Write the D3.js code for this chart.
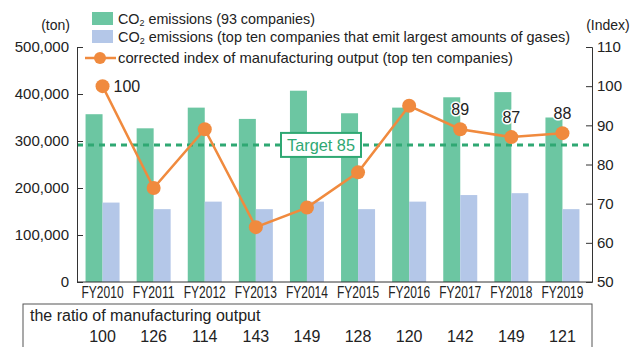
<!DOCTYPE html>
<html><head><meta charset="utf-8">
<script src="https://cdn.jsdelivr.net/npm/d3@7"></script>
<style>
body{margin:0;background:#fff;}
svg{display:block;font-family:"Liberation Sans",Arial,sans-serif;}
</style></head>
<body><svg id="c" width="639" height="347"></svg>
<script>
const years = ["FY2010","FY2011","FY2012","FY2013","FY2014","FY2015","FY2016","FY2017","FY2018","FY2019"];
const emissionsAll = [357000,327000,371000,347000,407000,359000,371000,393000,404000,350000];
const emissionsTop10 = [169000,155000,171000,155000,171000,155000,171000,185000,189000,155000];
const outputIndex = [100,74,89,64,69,78,95,89,87,88];
const ratioOutput = [100,126,114,143,149,128,120,142,149,121];
const leftTicks = [0,100000,200000,300000,400000,500000];
const rightTicks = [50,60,70,80,90,100,110];
const labelledPoints = [0,7,8,9];
const target = 85;
const legendLabels = ["emissions (93 companies)","emissions (top ten companies that emit largest amounts of gases)","corrected index of manufacturing output (top ten companies)"];

const GREEN="#6cc6a2", BLUE="#b4c7e8", ORANGE="#f08a3e", DGREEN="#2fa873";
const svg=d3.select("#c");
const x=d3.scaleBand().domain(years).range([77,588]);
const yL=d3.scaleLinear().domain([0,500000]).range([282,47]);
const yR=d3.scaleLinear().domain([50,110]).range([282,47]);
const cx=d=>x(d)+x.bandwidth()/2;
const bw=17;

// bars
svg.append("g").selectAll("rect").data(years).join("rect")
  .attr("x",d=>cx(d)-bw).attr("width",bw)
  .attr("y",(d,i)=>yL(emissionsAll[i])).attr("height",(d,i)=>yL(0)-yL(emissionsAll[i]))
  .attr("fill",GREEN);
svg.append("g").selectAll("rect").data(years).join("rect")
  .attr("x",d=>cx(d)).attr("width",bw)
  .attr("y",(d,i)=>yL(emissionsTop10[i])).attr("height",(d,i)=>yL(0)-yL(emissionsTop10[i]))
  .attr("fill",BLUE);

// target line
svg.append("line").attr("x1",77).attr("x2",592).attr("y1",yR(target)).attr("y2",yR(target))
  .attr("stroke",DGREEN).attr("stroke-width",3).attr("stroke-dasharray","6,5");
const tg=svg.append("g");
tg.append("rect").attr("x",281).attr("y",yR(target)-12).attr("width",80).attr("height",24)
  .attr("fill","#fff").attr("stroke",DGREEN).attr("stroke-width",2);
tg.append("text").attr("x",321).attr("y",yR(target)+6).attr("text-anchor","middle")
  .attr("font-size",17).attr("fill",DGREEN).attr("textLength",68).attr("lengthAdjust","spacingAndGlyphs").text("Target "+target);

// axes
const axL=d3.axisLeft(yL).tickValues(leftTicks).tickFormat(d3.format(",")).tickSize(-6).tickPadding(8);
const gL=svg.append("g").attr("transform","translate(77,0)").call(axL);
const axR=d3.axisRight(yR).tickValues(rightTicks).tickSize(-6).tickPadding(5);
const gR=svg.append("g").attr("transform","translate(592,0)").call(axR);
const axB=d3.axisBottom(x).tickSize(0).tickPadding(5);
const gB=svg.append("g").attr("transform","translate(0,282)").call(axB);
gB.select(".domain").attr("d","M77,0H592");
[gL,gR,gB].forEach(g=>{
  g.select(".domain").attr("stroke","#333");
  g.selectAll(".tick line").attr("stroke","#333");
  g.selectAll("text").attr("fill","#222").attr("font-family",null);
});
gL.selectAll("text").attr("font-size",15);
gR.selectAll("text").attr("font-size",15);
gB.selectAll("text").attr("font-size",16).attr("textLength",42).attr("lengthAdjust","spacingAndGlyphs");
svg.append("text").attr("x",70).attr("y",30).attr("text-anchor","end").attr("font-size",14).attr("fill","#222").text("(ton)");
svg.append("text").attr("x",608).attr("y",30).attr("text-anchor","middle").attr("font-size",14).attr("fill","#222").text("(Index)");

// line
const line=d3.line().x((d,i)=>cx(years[i])).y(d=>yR(d));
svg.append("path").datum(outputIndex).attr("d",line).attr("fill","none").attr("stroke",ORANGE).attr("stroke-width",2.5);
svg.append("g").selectAll("circle").data(outputIndex).join("circle")
  .attr("cx",(d,i)=>cx(years[i])).attr("cy",d=>yR(d)).attr("r",7).attr("fill",ORANGE);
svg.append("g").selectAll("text").data(labelledPoints).join("text")
  .attr("x",i=>i===0?cx(years[i])+11:cx(years[i]))
  .attr("y",i=>i===0?yR(outputIndex[i])+6:yR(outputIndex[i])-14)
  .attr("text-anchor",i=>i===0?"start":"middle")
  .attr("font-size",16).attr("fill","#222")
  .attr("stroke","#fff").attr("stroke-width",3).attr("paint-order","stroke")
  .text(i=>outputIndex[i]);

// legend
const lg=svg.append("g");
lg.append("rect").attr("x",92).attr("y",12).attr("width",21).attr("height",13).attr("fill",GREEN);
lg.append("rect").attr("x",92).attr("y",30).attr("width",21).attr("height",13).attr("fill",BLUE);
lg.append("line").attr("x1",85).attr("x2",116).attr("y1",58).attr("y2",58).attr("stroke",ORANGE).attr("stroke-width",2.5);
lg.append("circle").attr("cx",100).attr("cy",58).attr("r",6).attr("fill",ORANGE);
const legLen=[197,452,395];
[0,1].forEach(k=>{
  const t=lg.append("text").attr("x",118).attr("y",[24,42][k]).attr("font-size",14.5).attr("fill","#222")
    .attr("textLength",legLen[k]).attr("lengthAdjust","spacingAndGlyphs");
  t.append("tspan").text("CO");
  t.append("tspan").attr("font-size",9).attr("dy",2).text("2");
  t.append("tspan").attr("dy",-2).text(" "+legendLabels[k]);
});
lg.append("text").attr("x",118).attr("y",63).attr("font-size",14.5).attr("fill","#222")
  .attr("textLength",legLen[2]).attr("lengthAdjust","spacingAndGlyphs").text(legendLabels[2]);

// table
svg.append("rect").attr("x",23).attr("y",304).attr("width",569).attr("height",44).attr("fill","none").attr("stroke","#555").attr("stroke-width",1);
svg.append("text").attr("x",30).attr("y",321).attr("font-size",16).attr("fill","#222").text("the ratio of manufacturing output");
svg.append("g").selectAll("text").data(ratioOutput).join("text")
  .attr("x",(d,i)=>cx(years[i])).attr("y",342).attr("text-anchor","middle")
  .attr("font-size",16).attr("fill","#222").text(d=>d);
</script></body></html>
